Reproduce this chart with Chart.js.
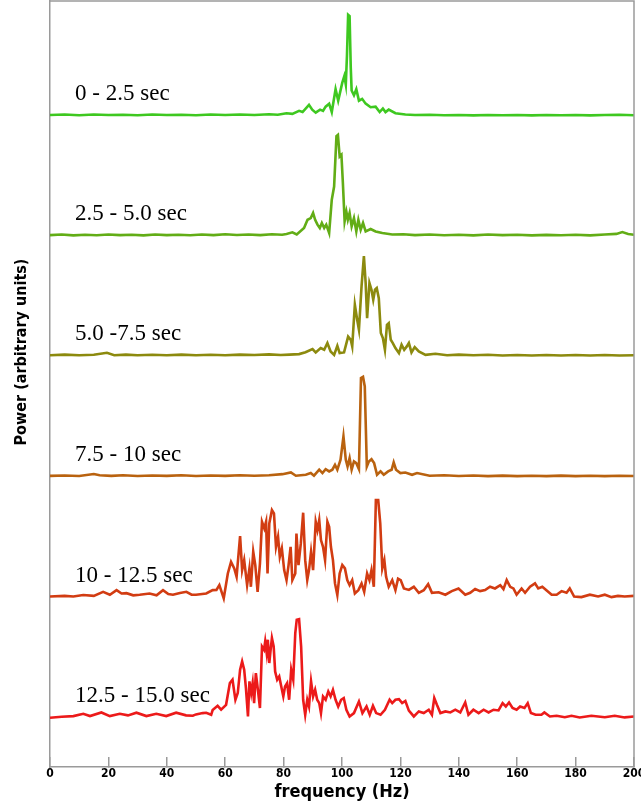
<!DOCTYPE html>
<html lang="en">
<head>
  <meta charset="UTF-8">
  <title>Power spectra</title>
  <style>
    body { margin: 0; background: #fff; }
    #box { width: 641px; height: 803px; }
  </style>
</head>
<body>
  <div id="box"><canvas id="myChart"></canvas></div>
  <script src="https://cdn.jsdelivr.net/npm/chart.js"></script>
  <script>
    // time windows, one spectrum each (top to bottom)
    const windows = ['0 - 2.5 sec', '2.5 - 5.0 sec', '5.0 -7.5 sec', '7.5 - 10 sec', '10 - 12.5 sec', '12.5 - 15.0 sec']
    // vertical offset of each spectrum (arbitrary units)
    const offsets = [54.25, 44.25, 34.25, 24.2, 14.15, 4.1]
    const xTicks = [0, 20, 40, 60, 80, 100, 120, 140, 160, 180, 200]

    // [frequency (Hz), power] pairs
    const w1 = [[0, 0.05], [5, 0.1], [10, 0.03], [15, 0.1], [20, 0.05], [25, 0.08], [30, 0.03], [35, 0.1], [40, 0.05], [45, 0.08], [50, 0.04], [55, 0.1], [60, 0.05], [65, 0.1], [70, 0.06], [75, 0.12], [78, 0.08], [81, 0.2], [83, 0.15], [85.3, 0.4], [86.5, 0.3], [88.7, 0.9], [89.8, 0.5], [91, 0.25], [92.5, 0.5], [93.5, 0.4], [94.4, 0.75], [95.6, 1.0], [96.5, 0.3], [97.8, 2.2], [98.7, 1.25], [100.1, 2.75], [100.8, 3.3], [101.3, 2.6], [101.7, 5], [102.1, 8.4], [102.6, 8.3], [103.0, 4], [103.3, 2.1], [104.1, 1.7], [104.9, 2.2], [105.8, 1.25], [106.9, 1.4], [108.1, 1.0], [109.8, 0.7], [111.5, 0.75], [112.9, 0.3], [114, 0.6], [114.9, 0.3], [116, 0.5], [118.3, 0.2], [121.7, 0.1], [125, 0.05], [130, 0.08], [135, 0.03], [140, 0.06], [145, 0.02], [150, 0.05], [155, 0.03], [160, 0.06], [165, 0.02], [170, 0.05], [175, 0.03], [180, 0.06], [185, 0.02], [190, 0.05], [195, 0.08], [200, 0.04]]
    const w2 = [[0, 0.05], [4, 0.1], [8, 0.03], [12, 0.08], [16, 0.04], [20, 0.1], [24, 0.05], [28, 0.08], [32, 0.03], [36, 0.1], [40, 0.05], [44, 0.08], [48, 0.04], [52, 0.1], [56, 0.05], [60, 0.12], [64, 0.06], [68, 0.1], [72, 0.05], [76, 0.12], [79.5, 0.08], [81, 0.15], [83, 0.28], [84.5, 0.1], [87, 0.64], [88.2, 1.33], [89.3, 1.47], [90.1, 1.9], [90.8, 1.33], [91.6, 0.92], [92.4, 0.64], [93.1, 1.06], [93.9, 0.64], [94.6, 0.92], [95.6, 0.22], [96.5, 3.0], [97.3, 4.1], [98.1, 8.3], [98.6, 8.4], [99.2, 6.6], [99.8, 6.75], [100.3, 4.4], [100.9, 1.2], [101.5, 2.0], [102.0, 1.33], [102.6, 1.9], [103.3, 0.78], [104.1, 1.47], [104.9, 0.36], [105.6, 1.33], [106.4, 0.5], [107.2, 1.06], [108.1, 0.36], [109.8, 0.56], [111.5, 0.36], [113.8, 0.22], [117.2, 0.1], [121, 0.12], [125, 0.05], [130, 0.1], [135, 0.04], [140, 0.08], [145, 0.03], [150, 0.1], [155, 0.05], [160, 0.08], [165, 0.03], [170, 0.07], [175, 0.04], [180, 0.08], [185, 0.03], [190, 0.1], [194, 0.15], [196, 0.3], [198, 0.15], [200, 0.08]]
    const w3 = [[0, 0.05], [5, 0.1], [10, 0.04], [15, 0.08], [19.5, 0.25], [22, 0.05], [26, 0.1], [30, 0.04], [35, 0.08], [40, 0.05], [45, 0.1], [50, 0.04], [55, 0.08], [60, 0.05], [65, 0.1], [70, 0.06], [75, 0.12], [79, 0.06], [82, 0.1], [85.3, 0.14], [87.5, 0.3], [89.9, 0.56], [91, 0.28], [92.7, 0.64], [93.9, 0.5], [95, 1.06], [96.1, 0.36], [97.3, 0.08], [98.4, 0.83], [99.2, 0.22], [100.7, 0.28], [102.1, 1.6], [103.0, 1.33], [103.5, 0.78], [104.4, 4.25], [105.2, 3.0], [105.8, 2.17], [106.7, 5.8], [107.5, 8.3], [108.1, 6.06], [108.6, 3.14], [109.4, 6.06], [110.1, 5.5], [110.7, 4.67], [111.3, 5.5], [111.9, 5.64], [112.6, 4.8], [113.3, 1.9], [114, 1.47], [114.7, 0.5], [115.4, 2.58], [116, 2.72], [116.7, 1.33], [117.4, 1.06], [118.3, 0.64], [119.5, 0.22], [120.4, 0.92], [121.3, 0.5], [122.2, 0.78], [122.9, 1.06], [123.8, 0.28], [124.9, 0.72], [126.3, 0.36], [128.6, 0.08], [132, 0.17], [136, 0.05], [140, 0.1], [145, 0.04], [150, 0.08], [155, 0.03], [160, 0.07], [165, 0.03], [170, 0.06], [175, 0.03], [180, 0.07], [185, 0.03], [190, 0.06], [195, 0.03], [200, 0.05]]
    const w4 = [[0, 0.05], [5, 0.08], [10, 0.04], [15, 0.2], [17, 0.1], [21, 0.05], [25, 0.1], [30, 0.04], [35, 0.08], [40, 0.05], [45, 0.1], [50, 0.04], [55, 0.08], [60, 0.05], [65, 0.1], [70, 0.06], [75, 0.1], [79.6, 0.19], [82.5, 0.33], [84.2, 0.06], [87.6, 0.14], [89.3, 0.28], [90.4, 0.06], [92.2, 0.56], [93.3, 0.28], [94.4, 0.61], [95.6, 0.42], [96.7, 0.56], [97.6, 0.97], [98.4, 0.56], [99.5, 1.39], [100.5, 3.33], [101.3, 1.39], [101.9, 0.83], [102.6, 1.53], [103.3, 0.56], [104.1, 1.25], [104.9, 1.11], [105.8, 0.61], [106.5, 8.2], [107.2, 8.3], [107.8, 7.5], [108.5, 0.83], [109.2, 1.25], [110.1, 1.44], [111.0, 1.11], [112.0, 0.14], [113.2, 0.42], [114.3, 0.14], [115.8, 0.42], [117.0, 0.56], [117.7, 1.17], [118.5, 0.56], [120, 0.28], [121.7, 0.33], [124, 0.14], [125.7, 0.28], [130, 0.06], [135, 0.1], [140, 0.04], [145, 0.08], [150, 0.03], [155, 0.07], [160, 0.03], [165, 0.06], [170, 0.03], [175, 0.07], [180, 0.03], [185, 0.06], [190, 0.03], [195, 0.06], [200, 0.04]]
    const w5 = [[0, 0.05], [5, 0.1], [8, 0.05], [11.4, 0.17], [15, 0.1], [18.2, 0.44], [20.5, 0.2], [22.8, 0.58], [24.5, 0.3], [26.2, 0.33], [28.5, 0.15], [30.7, 0.2], [34.1, 0.3], [36.5, 0.15], [38.7, 0.58], [40.5, 0.25], [42.1, 0.2], [44.5, 0.35], [46.7, 0.44], [48.5, 0.2], [50, 0.2], [53.5, 0.3], [55.7, 0.58], [57, 0.6], [58.0, 1.0], [59.5, -0.1], [60.9, 1.97], [62.0, 2.94], [63.1, 2.39], [63.9, 1.69], [65.1, 5.08], [65.8, 2.25], [66.5, 3.08], [67.5, 1.0], [68.3, 2.39], [68.8, 0.86], [69.6, 3.78], [70.3, 2.67], [71.1, 0.44], [71.9, 2.8], [72.6, 6.28], [73.4, 5.72], [74.0, 6.28], [74.5, 1.97], [75.1, 6.14], [76.0, 7.25], [76.7, 6.97], [77.4, 4.19], [78.1, 5.03], [78.7, 3.36], [79.4, 4.06], [80.2, 2.25], [81.0, 1.42], [81.7, 2.67], [82.4, 4.19], [83.0, 1.42], [84.0, 1.97], [84.4, 5.3], [85.1, 2.67], [85.9, 4.47], [86.7, 7.03], [87.4, 3.08], [88.1, 1.42], [88.7, 2.25], [89.4, 3.78], [90.1, 2.25], [91.0, 6.28], [91.6, 5.58], [92.2, 6.42], [92.8, 4.75], [93.5, 4.19], [94.2, 3.08], [95.0, 6.28], [95.6, 5.86], [96.2, 4.19], [96.9, 3.08], [97.6, 1.14], [98.4, 0.17], [99.2, 1.97], [100.1, 2.67], [101.0, 2.39], [101.8, 1.42], [102.6, 1.0], [103.5, 1.42], [104.4, 0.3], [105.6, 0.58], [106.7, 1.14], [107.6, 0.44], [108.6, 1.97], [109.4, 1.42], [110.1, 2.25], [110.9, 0.86], [111.6, 8.08], [112.4, 8.08], [113.1, 6.14], [113.8, 2.39], [114.5, 3.08], [115.1, 1.69], [116.0, 0.86], [117.2, 1.42], [118.3, 0.58], [119.2, 1.53], [120.1, 1.42], [121.2, 0.72], [122.9, 0.6], [124.6, 0.86], [126.3, 0.36], [128, 0.58], [129.5, 1.08], [130.8, 0.36], [133.1, 0.4], [135.4, 0.2], [137.6, 0.5], [139.9, 0.72], [142.2, 0.2], [143.9, 0.36], [145.6, 0.67], [147.3, 0.5], [149, 0.58], [150.7, 0.86], [152.4, 0.72], [154.2, 1.0], [155.3, 0.67], [156.4, 1.42], [157.6, 0.86], [158.7, 0.72], [159.8, 0.2], [161.5, 0.72], [162.7, 0.36], [164.4, 0.86], [166.1, 1.14], [167.2, 0.72], [168.6, 0.86], [170, 0.58], [171.8, 0.2], [173.5, 0.2], [175.2, 0.5], [176.9, 0.36], [178, 0.72], [179.5, 0.05], [182, 0.0], [184.9, 0.2], [187.7, 0.05], [190, 0.2], [192.3, 0.0], [194.5, 0.1], [196.8, 0.05], [200, 0.1]]
    const w6 = [[0, 0.0], [4, 0.08], [8, 0.14], [11.4, 0.33], [13.7, 0.14], [17.6, 0.44], [20.5, 0.14], [23.9, 0.33], [26.7, 0.2], [29.6, 0.42], [33, 0.14], [36.4, 0.33], [39.8, 0.14], [43.2, 0.42], [46.6, 0.2], [48.9, 0.17], [50, 0.28], [52.3, 0.39], [53.5, 0.42], [55.2, 0.25], [55.7, 0.64], [57.4, 1.0], [58.6, 0.67], [60.3, 1.08], [61.6, 2.89], [62.5, 3.17], [63.5, 1.5], [64.3, 2.06], [65.1, 4.0], [65.8, 4.69], [66.5, 4.0], [67.1, 2.47], [67.8, 0.11], [68.3, 3.03], [68.9, 2.06], [69.4, 2.89], [69.9, 1.22], [70.5, 3.72], [71.2, 2.33], [71.9, 0.81], [72.6, 5.94], [73.3, 5.67], [73.7, 6.36], [74.2, 5.39], [74.6, 6.5], [75.1, 4.56], [75.5, 5.53], [76.0, 6.64], [76.6, 5.94], [77.1, 3.86], [77.8, 3.17], [78.5, 3.44], [79.2, 2.61], [79.9, 1.78], [80.5, 2.61], [81.2, 2.89], [81.9, 1.5], [82.6, 4.0], [83.3, 3.17], [84.0, 7.06], [84.5, 8.17], [85.3, 8.22], [86.0, 5.94], [86.7, 1.5], [87.4, 0.25], [88.1, 1.5], [88.7, 0.94], [89.4, 3.03], [90.1, 1.78], [90.8, 2.33], [91.5, 1.5], [92.2, 1.22], [92.8, 0.39], [93.5, 1.78], [94.4, 1.5], [95.3, 2.19], [96.1, 1.78], [96.9, 2.33], [97.8, 1.5], [98.7, 0.94], [99.7, 1.5], [100.6, 1.64], [101.5, 0.67], [102.6, 0.11], [104.1, 0.39], [105.8, 1.36], [107.0, 0.39], [108.4, 0.94], [109.5, 0.25], [110.6, 1.0], [111.7, 0.39], [113.2, 0.25], [114.7, 0.67], [116.3, 1.5], [117.2, 1.22], [118.3, 1.5], [119.5, 1.55], [120.6, 1.22], [121.7, 1.4], [122.9, 0.6], [124.6, 0.11], [126.3, 0.53], [128, 0.39], [129.7, 0.67], [130.8, 0.25], [131.6, 1.64], [132.5, 1.08], [133.7, 0.39], [135.4, 0.53], [137.1, 0.44], [138.8, 0.67], [140.5, 0.44], [142.2, 1.28], [143.3, 0.25], [145, 0.67], [146.8, 0.39], [148.5, 0.67], [150.2, 0.44], [151.9, 0.67], [153.6, 0.61], [155, 1.22], [156.1, 0.94], [157.2, 1.28], [158.4, 0.81], [159.8, 0.67], [161, 0.94], [162.5, 0.81], [163.6, 1.22], [164.7, 0.39], [166.3, 0.25], [168.3, 0.25], [169.3, 0.44], [171.2, 0.11], [173.5, 0.17], [176.3, 0.05], [178.6, 0.17], [181.4, 0.03], [185.4, 0.17], [190, 0.05], [193.4, 0.17], [196.8, 0.03], [200, 0.11]]

    const spectra = [w1, w2, w3, w4, w5, w6]
    const colors = ['#3ec820', '#62ad16', '#8c8a0e', '#b9620f', '#d23c12', '#ec1a1a']
    const axisFont = '"Liberation Sans Narrow", "DejaVu Sans Condensed", "Arial Narrow", sans-serif'

    // frame on top / right, window labels and the rotated y title
    const overlay = {
      id: 'overlay',
      afterDraw(chart) {
        const { ctx, chartArea: a, scales: { x, y } } = chart
        ctx.save()
        ctx.strokeStyle = '#9a9a9a'
        ctx.lineWidth = 1.5
        ctx.beginPath()
        ctx.moveTo(a.left, a.top)
        ctx.lineTo(a.right, a.top)
        ctx.lineTo(a.right, a.bottom)
        ctx.stroke()

        ctx.fillStyle = '#000'
        ctx.font = '23px "Liberation Serif", "Times New Roman", serif'
        ctx.textBaseline = 'alphabetic'
        windows.forEach(function (t, i) {
          ctx.fillText(t, x.getPixelForValue(8.6), y.getPixelForValue(offsets[i] + 1.3))
        })

        ctx.translate(22, 352)
        ctx.rotate(-Math.PI / 2)
        ctx.font = 'bold 16px ' + axisFont
        ctx.textAlign = 'center'
        ctx.textBaseline = 'middle'
        ctx.fillText('Power (arbitrary units)', 0, 0)
        ctx.restore()
      }
    }

    const ctx = document.getElementById('myChart')

    new Chart(ctx, {
      type: 'line',
      data: {
        datasets: spectra.map(function (s, i) {
          return {
            label: windows[i],
            data: s.map(function (p) { return { x: p[0], y: offsets[i] + p[1] } }),
            borderColor: colors[i],
            borderWidth: 2.6,
            pointRadius: 0,
            tension: 0,
            fill: false,
          }
        })
      },
      options: {
        responsive: true,
        maintainAspectRatio: false,
        animation: false,
        layout: { padding: { top: 1, right: 7, left: 0, bottom: 0 } },
        plugins: {
          legend: { display: false },
          tooltip: { enabled: false },
        },
        scales: {
          x: {
            type: 'linear',
            min: 0,
            max: 200,
            afterBuildTicks: function (scale) {
              scale.ticks = xTicks.map(function (v) { return { value: v } })
            },
            afterFit: function (scale) {
              scale.height = 36
              scale.paddingLeft = 0
              scale.paddingRight = 0
            },
            grid: {
              drawOnChartArea: false,
              tickLength: -10,
              color: '#9a9a9a',
              lineWidth: 1.5,
            },
            border: { color: '#9a9a9a', width: 1.5 },
            ticks: {
              padding: 10,
              maxRotation: 0,
              color: '#000',
              font: { family: axisFont, size: 12, weight: 'bold' },
            },
            title: {
              display: true,
              text: 'frequency (Hz)',
              color: '#000',
              padding: 0,
              font: { family: axisFont, size: 18, weight: 'bold' },
            }
          },
          y: {
            min: 0,
            max: 63.8,
            afterFit: function (scale) { scale.width = 50 },
            grid: { display: false },
            border: { color: '#9a9a9a', width: 1.5 },
            ticks: { display: false },
          }
        }
      },
      plugins: [overlay]
    });
  </script>
</body>
</html>
